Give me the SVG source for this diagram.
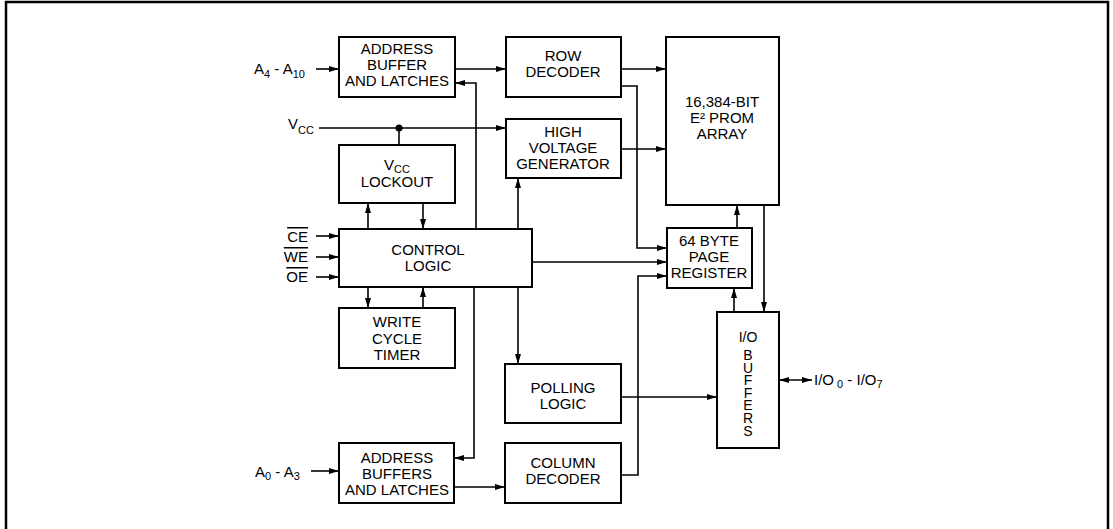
<svg xmlns="http://www.w3.org/2000/svg" width="1113" height="529" viewBox="0 0 1113 529">
<style>
.box{fill:#fff;stroke:#000;stroke-width:2}
.ln{fill:none;stroke:#000;stroke-width:1.6}
.t{font-family:"Liberation Sans",Arial,Helvetica,sans-serif;font-size:15px;fill:#000;text-anchor:middle}
.l{font-family:"Liberation Sans",Arial,Helvetica,sans-serif;font-size:15px;fill:#000}
.s{font-size:11px}
.v{font-family:"Liberation Sans",Arial,Helvetica,sans-serif;font-size:14px;fill:#000;writing-mode:vertical-rl;text-orientation:upright;letter-spacing:-3.4px}
.frame{fill:none;stroke:#000;stroke-width:2.5}
</style>
<defs>
<marker id="ah" viewBox="0 0 10 6" refX="10" refY="3" markerWidth="10" markerHeight="6" markerUnits="userSpaceOnUse" orient="auto-start-reverse">
<path d="M0,0 L10,3 L0,6 z" fill="#000"/>
</marker>
</defs>
<rect width="1113" height="529" fill="#fff"/>
<path class="frame" d="M6,529 V2 H1108 V529"/>

<g id="connectors">
<line class="ln" x1="316" y1="69" x2="339" y2="69" marker-end="url(#ah)"/>
<line class="ln" x1="455" y1="69" x2="506" y2="69" marker-end="url(#ah)"/>
<line class="ln" x1="621" y1="69" x2="666" y2="69" marker-end="url(#ah)"/>
<polyline class="ln" points="621,86 637,86 637,248 667,248" marker-end="url(#ah)"/>
<line class="ln" x1="319" y1="128" x2="506" y2="128" marker-end="url(#ah)"/>
<circle cx="399" cy="128" r="3.5" fill="#000"/>
<line class="ln" x1="399" y1="128" x2="399" y2="145"/>
<line class="ln" x1="621" y1="149" x2="666" y2="149" marker-end="url(#ah)"/>
<polyline class="ln" points="476,229 476,83 455,83" marker-end="url(#ah)"/>
<line class="ln" x1="518" y1="229" x2="518" y2="178" marker-end="url(#ah)"/>
<line class="ln" x1="368" y1="229" x2="368" y2="203" marker-end="url(#ah)"/>
<line class="ln" x1="423" y1="203" x2="423" y2="229" marker-end="url(#ah)"/>
<line class="ln" x1="316" y1="236" x2="339" y2="236" marker-end="url(#ah)"/>
<line class="ln" x1="316" y1="257" x2="339" y2="257" marker-end="url(#ah)"/>
<line class="ln" x1="316" y1="277" x2="339" y2="277" marker-end="url(#ah)"/>
<line class="ln" x1="532" y1="262" x2="667" y2="262" marker-end="url(#ah)"/>
<line class="ln" x1="368" y1="287" x2="368" y2="308" marker-end="url(#ah)"/>
<line class="ln" x1="423" y1="308" x2="423" y2="287" marker-end="url(#ah)"/>
<polyline class="ln" points="474,287 474,458 454,458" marker-end="url(#ah)"/>
<line class="ln" x1="518" y1="287" x2="518" y2="364" marker-end="url(#ah)"/>
<line class="ln" x1="737" y1="228" x2="737" y2="205" marker-end="url(#ah)"/>
<line class="ln" x1="764" y1="205" x2="764" y2="312" marker-end="url(#ah)"/>
<line class="ln" x1="734" y1="312" x2="734" y2="288" marker-end="url(#ah)"/>
<line class="ln" x1="621" y1="397" x2="717" y2="397" marker-end="url(#ah)"/>
<line class="ln" x1="779" y1="380" x2="812" y2="380" marker-start="url(#ah)" marker-end="url(#ah)"/>
<line class="ln" x1="311" y1="471" x2="339" y2="471" marker-end="url(#ah)"/>
<line class="ln" x1="454" y1="487" x2="505" y2="487" marker-end="url(#ah)"/>
<polyline class="ln" points="621,475 638,475 638,276 667,276" marker-end="url(#ah)"/>
</g>

<g id="labels">
<text class="l" x="254" y="74">A<tspan class="s" dy="4">4</tspan><tspan dy="-4"> - A</tspan><tspan class="s" dy="4">10</tspan></text>
<text class="l" x="288" y="129">V<tspan class="s" dy="5">CC</tspan></text>
<text class="l" x="308" y="242" text-anchor="end" style="text-decoration:overline">CE</text>
<text class="l" x="308" y="262" text-anchor="end" style="text-decoration:overline">WE</text>
<text class="l" x="308" y="282" text-anchor="end" style="text-decoration:overline">OE</text>
<text class="l" x="255" y="477">A<tspan class="s" dy="3">0</tspan><tspan dy="-3"> - A</tspan><tspan class="s" dy="3">3</tspan></text>
<text class="l" x="814" y="385">I/O<tspan class="s" dy="3"> 0</tspan><tspan dy="-3"> - I/O</tspan><tspan class="s" dy="3">7</tspan></text>
</g>

<g id="addr-buffer">
<rect class="box" x="339" y="37" width="116" height="60"/>
<text class="t" x="397" y="54">ADDRESS</text>
<text class="t" x="397" y="70">BUFFER</text>
<text class="t" x="397" y="86">AND LATCHES</text>
</g>
<g id="row-decoder">
<rect class="box" x="506" y="37" width="115" height="60"/>
<text class="t" x="563" y="61">ROW</text>
<text class="t" x="563" y="77">DECODER</text>
</g>
<g id="prom-array">
<rect class="box" x="666" y="37" width="113" height="168"/>
<text class="t" x="722" y="107">16,384-BIT</text>
<text class="t" x="722" y="123">E² PROM</text>
<text class="t" x="722" y="139">ARRAY</text>
</g>
<g id="hv-gen">
<rect class="box" x="506" y="119" width="115" height="59"/>
<text class="t" x="563" y="137">HIGH</text>
<text class="t" x="563" y="153">VOLTAGE</text>
<text class="t" x="563" y="169">GENERATOR</text>
</g>
<g id="vcc-lockout">
<rect class="box" x="339" y="145" width="116" height="58"/>
<text class="t" x="397" y="170">V<tspan class="s" dy="3">CC</tspan></text>
<text class="t" x="397" y="187">LOCKOUT</text>
</g>
<g id="control-logic">
<rect class="box" x="339" y="229" width="193" height="58"/>
<text class="t" x="428" y="255">CONTROL</text>
<text class="t" x="428" y="271">LOGIC</text>
</g>
<g id="page-register">
<rect class="box" x="667" y="228" width="85" height="60"/>
<text class="t" x="709" y="246">64 BYTE</text>
<text class="t" x="709" y="262">PAGE</text>
<text class="t" x="709" y="278">REGISTER</text>
</g>
<g id="write-timer">
<rect class="box" x="339" y="308" width="116" height="60"/>
<text class="t" x="397" y="327">WRITE</text>
<text class="t" x="397" y="344">CYCLE</text>
<text class="t" x="397" y="360">TIMER</text>
</g>
<g id="io-buffers">
<rect class="box" x="717" y="312" width="62" height="136"/>
<text class="t" x="748" y="342" style="font-size:14px">I/O</text>
<text class="v" x="748" y="347">BUFFERS</text>
</g>
<g id="polling-logic">
<rect class="box" x="505" y="364" width="116" height="59"/>
<text class="t" x="563" y="393">POLLING</text>
<text class="t" x="563" y="409">LOGIC</text>
</g>
<g id="addr-buffers-low">
<rect class="box" x="339" y="443" width="115" height="60"/>
<text class="t" x="397" y="463">ADDRESS</text>
<text class="t" x="397" y="479">BUFFERS</text>
<text class="t" x="397" y="495">AND LATCHES</text>
</g>
<g id="column-decoder">
<rect class="box" x="505" y="443" width="116" height="60"/>
<text class="t" x="563" y="468">COLUMN</text>
<text class="t" x="563" y="484">DECODER</text>
</g>
</svg>
